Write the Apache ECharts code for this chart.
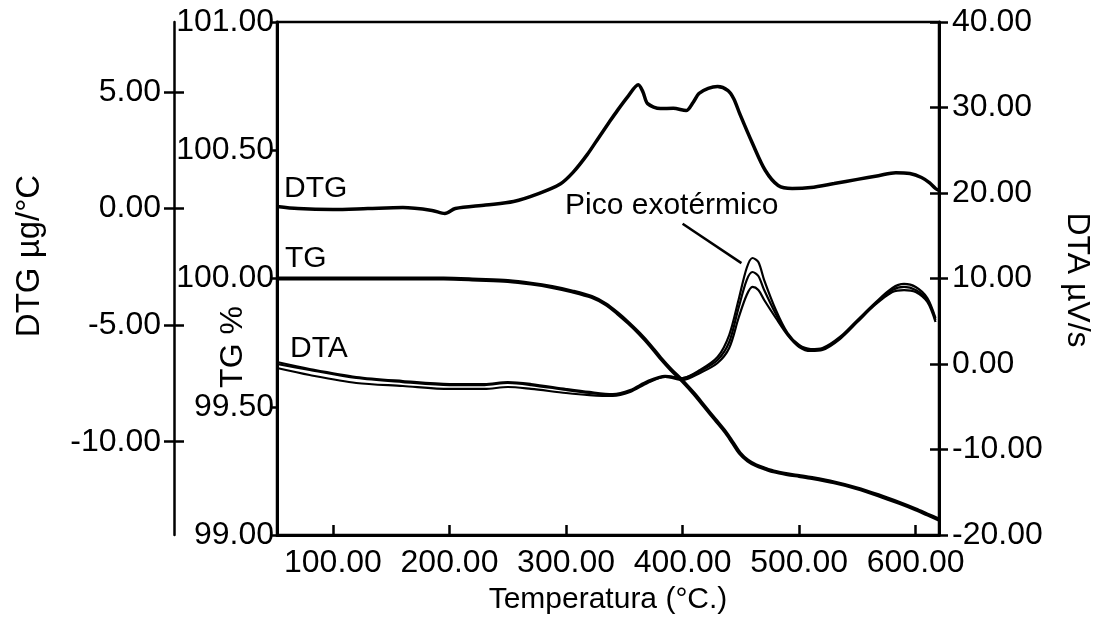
<!DOCTYPE html>
<html><head><meta charset="utf-8">
<script src="https://cdn.jsdelivr.net/npm/echarts@6/dist/echarts.min.js"></script>
<style>html,body{margin:0;padding:0;background:#fff}#c{width:1099px;height:623px}</style>
</head><body><div id="c"></div>
<script>
const FONT = '"Liberation Sans", Arial, Helvetica, sans-serif';

// Tick labels
const xTicks = [100, 200, 300, 400, 500, 600];
const dtgTicks = [-10, -5, 0, 5];
const dtaTicks = [-20, -10, 0, 10, 20, 30, 40];

// DTG (µg/°C) vs temperature
const dtgT = [52,70,100,130,160,185,196,205,231,255,277,295,306,318,328,337,344,353,362,366,370,381,392,403,409,414,422,430,439,444,449,460,471,482,494,510,530,550,568,583,595,605,612,617,620];
const dtgV = [0.09,0.00,-0.04,0.00,0.04,-0.08,-0.21,0.00,0.15,0.30,0.65,1.05,1.55,2.30,3.04,3.70,4.20,4.80,5.31,5.00,4.50,4.29,4.30,4.20,4.55,4.93,5.15,5.23,5.06,4.70,4.07,2.79,1.63,0.99,0.86,0.90,1.07,1.25,1.41,1.54,1.50,1.33,1.10,0.86,0.78];

// TG (%) vs temperature
const tgT = [52,100,150,195,225,250,270,288,305,322,334,344,354,363,372,381,390,400,410,419,428,437,443,449,456,463,470,478,490,500,511,530,549,568,586,600,610,620];
const tgV = [100.00,100.00,100.00,100.00,99.995,99.99,99.98,99.967,99.95,99.928,99.90,99.865,99.825,99.785,99.74,99.69,99.645,99.60,99.55,99.50,99.45,99.40,99.36,99.32,99.29,99.272,99.26,99.248,99.237,99.23,99.222,99.205,99.183,99.155,99.125,99.10,99.08,99.06];

// DTA (µV/s) – three runs, same temperatures
const dtaT = [52,80,120,160,200,230,250,270,300,320,340,355,370,385,400,415,430,440,448,455,460,465,470,480,490,500,510,520,535,550,565,580,590,600,610,617];
const dtaA = [0.23,-0.58,-1.52,-1.99,-2.34,-2.34,-2.11,-2.34,-2.92,-3.27,-3.51,-3.04,-1.99,-1.40,-1.64,-0.70,0.82,3.39,7.49,11.23,12.40,11.93,9.82,6.32,3.63,2.22,1.75,1.87,3.16,5.15,7.13,8.89,9.36,9.01,7.72,5.38];
const dtaB = [0.00,-0.70,-1.64,-2.11,-2.46,-2.46,-2.22,-2.46,-3.04,-3.39,-3.63,-3.16,-2.11,-1.52,-1.64,-0.82,0.47,2.57,6.55,9.82,10.76,10.29,8.65,5.85,3.51,2.11,1.64,1.75,3.04,5.03,7.01,8.65,9.01,8.65,7.49,5.15];
const dtaC = [-0.47,-1.29,-2.22,-2.57,-2.92,-2.92,-2.69,-2.92,-3.39,-3.63,-3.74,-3.27,-2.22,-1.52,-1.87,-1.05,0.12,1.87,5.38,8.07,9.01,8.65,7.49,5.38,3.39,1.99,1.52,1.64,2.92,4.91,6.90,8.42,8.65,8.42,7.25,4.91];

// Annotation leader line (temperature, DTA value)
const leaderFrom = [400, 16.4];
const leaderTo = [450.5, 11.8];

const zip = (a, b) => a.map((t, i) => [t, b[i]]);
const fmt2 = v => Number(v).toFixed(2);
const black = '#000';
const lblStyle = { color: black, fontSize: 32, fontFamily: FONT };

const chart = echarts.init(document.getElementById('c'), null, { renderer: 'canvas' });
chart.setOption({
  animation: false,
  backgroundColor: '#fff',
  grid: { left: 277, right: 160, top: 22, bottom: 88, show: true, borderColor: black, borderWidth: 2.5, backgroundColor: 'transparent' },
  xAxis: {
    type: 'value', min: 52, max: 620,
    name: 'Temperatura (°C.)', nameLocation: 'middle', nameGap: 50,
    nameTextStyle: { color: black, fontSize: 30, fontFamily: FONT },
    axisLine: { show: true, onZero: false, lineStyle: { color: black, width: 3 } },
    axisTick: { show: true, inside: true, length: 10, customValues: xTicks, lineStyle: { color: black, width: 2.5 } },
    axisLabel: Object.assign({ customValues: xTicks, margin: 12, formatter: fmt2 }, lblStyle),
    splitLine: { show: false }
  },
  yAxis: [
    { // TG %
      type: 'value', position: 'left', offset: 0, min: 99, max: 101, interval: 0.5,
      axisLine: { show: true, onZero: false, lineStyle: { color: black, width: 3 } },
      axisTick: { show: true, length: 7, lineStyle: { color: black, width: 2.5 } },
      axisLabel: Object.assign({ margin: 3, formatter: fmt2, showMinLabel: true, showMaxLabel: true }, lblStyle),
      splitLine: { show: false }
    },
    { // DTG µg/°C
      type: 'value', position: 'left', offset: 103, min: -14, max: 8,
      axisLine: { show: true, onZero: false, lineStyle: { color: black, width: 2.5 } },
      axisTick: { show: true, length: 10, customValues: dtgTicks, lineStyle: { color: black, width: 2.5 } },
      axisLabel: Object.assign({ customValues: dtgTicks, margin: 13, formatter: fmt2 }, lblStyle),
      splitLine: { show: false }
    },
    { // DTG inner tick halves
      type: 'value', position: 'left', offset: 103, min: -14, max: 8,
      axisLine: { show: false, onZero: false },
      axisTick: { show: true, inside: true, length: 10, customValues: dtgTicks, lineStyle: { color: black, width: 2.5 } },
      axisLabel: { show: false }, splitLine: { show: false }
    },
    { // DTA µV/s
      type: 'value', position: 'right', offset: 0, min: -20, max: 40, interval: 10,
      axisLine: { show: true, onZero: false, lineStyle: { color: black, width: 3 } },
      axisTick: { show: true, length: 9, lineStyle: { color: black, width: 2.5 } },
      axisLabel: Object.assign({ margin: 13, formatter: fmt2, showMinLabel: true, showMaxLabel: true }, lblStyle),
      splitLine: { show: false }
    },
    { // DTA inner tick halves
      type: 'value', position: 'right', offset: 0, min: -20, max: 40, interval: 10,
      axisLine: { show: false, onZero: false },
      axisTick: { show: true, inside: true, length: 9, lineStyle: { color: black, width: 2.5 } },
      axisLabel: { show: false }, splitLine: { show: false }
    }
  ],
  series: [
    { name: 'DTG', type: 'line', yAxisIndex: 1, data: zip(dtgT, dtgV), showSymbol: false, smooth: 0.3,
      lineStyle: { color: black, width: 3.5 } },
    { name: 'TG', type: 'line', yAxisIndex: 0, data: zip(tgT, tgV), showSymbol: false, smooth: 0.3,
      lineStyle: { color: black, width: 4 } },
    { name: 'DTA 1', type: 'line', yAxisIndex: 3, data: zip(dtaT, dtaA), showSymbol: false, smooth: 0.3,
      lineStyle: { color: black, width: 2.2 },
      markLine: { silent: true, symbol: ['none', 'none'], label: { show: false },
        lineStyle: { color: black, width: 2.5, type: 'solid' },
        data: [[{ coord: leaderFrom }, { coord: leaderTo }]] } },
    { name: 'DTA 2', type: 'line', yAxisIndex: 3, data: zip(dtaT, dtaB), showSymbol: false, smooth: 0.3,
      lineStyle: { color: black, width: 2.2 } },
    { name: 'DTA 3', type: 'line', yAxisIndex: 3, data: zip(dtaT, dtaC), showSymbol: false, smooth: 0.3,
      lineStyle: { color: black, width: 2.2 } }
  ],
  graphic: [
    { type: 'text', x: 30, y: 256, rotation: Math.PI / 2, style: { text: 'DTG µg/°C', fill: black, font: '33px ' + FONT, align: 'center', verticalAlign: 'middle' } },
    { type: 'text', x: 233, y: 347, rotation: Math.PI / 2, style: { text: 'TG %', fill: black, font: '32px ' + FONT, align: 'center', verticalAlign: 'middle' } },
    { type: 'text', x: 1077, y: 280, rotation: -Math.PI / 2, style: { text: 'DTA µV/s', fill: black, font: '32px ' + FONT, align: 'center', verticalAlign: 'middle' } },
    { type: 'text', x: 284, y: 189, style: { text: 'DTG', fill: black, font: '30px ' + FONT, align: 'left', verticalAlign: 'middle' } },
    { type: 'text', x: 285, y: 259, style: { text: 'TG', fill: black, font: '30px ' + FONT, align: 'left', verticalAlign: 'middle' } },
    { type: 'text', x: 290, y: 349, style: { text: 'DTA', fill: black, font: '30px ' + FONT, align: 'left', verticalAlign: 'middle' } },
    { type: 'text', x: 565, y: 206, style: { text: 'Pico exotérmico', fill: black, font: '30px ' + FONT, align: 'left', verticalAlign: 'middle' } }
  ]
});
</script>
</body></html>
